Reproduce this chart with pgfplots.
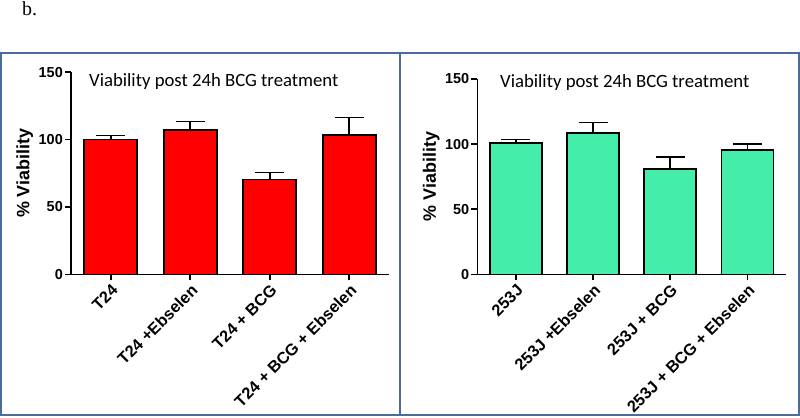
\documentclass[border=0pt]{standalone}
\usepackage{pgfplots}
\pgfplotsset{compat=1.18}
\usepackage{fontspec}
\setmainfont{Liberation Sans}
\newfontfamily\calibri{Carlito}
\newfontfamily\timesf{Liberation Serif}
\definecolor{barred}{RGB}{255,0,0}
\definecolor{bargreen}{RGB}{68,238,170}
\definecolor{framecol}{RGB}{76,108,158}
\pgfplotsset{panel/.style={
  scale only axis,
  axis x line*=bottom, axis y line*=left,
  axis line style={line width=1.6bp, black},
  xmin=-0.5, xmax=3.5, ymin=0, ymax=150,
  ytick={0,50,100,150}, xtick={0,1,2,3},
  tick align=outside, major tick length=6bp,
  tick style={line width=1.6bp, black},
  y tick label style={font=\fontsize{14.5}{14.5}\selectfont\bfseries, inner sep=2bp},
  /pgf/number format/assume math mode=true,
  x tick label style={font=\fontsize{16.4}{16.4}\selectfont\bfseries, rotate=45, anchor=north east, inner sep=2bp},
  ylabel={\% Viability},
  ylabel style={font=\fontsize{18}{18}\selectfont\bfseries},
  clip=false,
  ybar,
}}
\pgfplotsset{errstyle/.style={
  error bars/.cd, y dir=plus, y explicit,
  error bar style={line width=1.6bp, black},
  error mark options={rotate=90, mark size=14.5bp, line width=1.6bp, black}
}}
\pgfplotstableread{
x y e
0 100.0 3.0
1 107.0 6.6
2 70.5 5.0
3 103.5 13.0
}\leftdata
\pgfplotstableread{
x y e
0 101.0 2.4
1 108.5 8.0
2 81.0 9.0
3 95.7 4.6
}\rightdata
\begin{document}
\begin{tikzpicture}[x=1bp,y=1bp]
\useasboundingbox (0,0) rectangle (800,417);
\node[anchor=base west, font=\timesf\fontsize{20}{20}\selectfont, inner sep=0pt] at (22,401) {b.};
\draw[framecol, line width=2bp] (1,2) rectangle (799,364);
\draw[framecol, line width=2bp] (400,2) -- (400,364);
\begin{axis}[panel, at={(71bp,142.7bp)}, anchor=south west,
  width=318bp, height=202bp, bar width=53bp,
  xticklabels={T24, T24 +Ebselen, T24 + BCG, T24 + BCG + Ebselen}]
\addplot[fill=barred, draw=black, line width=1.6bp, errstyle] table[x=x, y=y, y error=e] {\leftdata};
\end{axis}
\begin{axis}[panel, at={(477.3bp,142.7bp)}, anchor=south west,
  width=308.7bp, height=195.3bp, bar width=52bp,
  xticklabels={253J, 253J +Ebselen, 253J + BCG, 253J + BCG + Ebselen}]
\addplot[fill=bargreen, draw=black, line width=1.6bp, errstyle] table[x=x, y=y, y error=e] {\rightdata};
\end{axis}
\node[anchor=base west, font=\calibri\fontsize{18.8}{18.8}\selectfont, inner sep=0pt] at (89,331) {Viability post 24h BCG treatment};
\node[anchor=base west, font=\calibri\fontsize{18.8}{18.8}\selectfont, inner sep=0pt] at (500,330) {Viability post 24h BCG treatment};
\end{tikzpicture}
\end{document}
